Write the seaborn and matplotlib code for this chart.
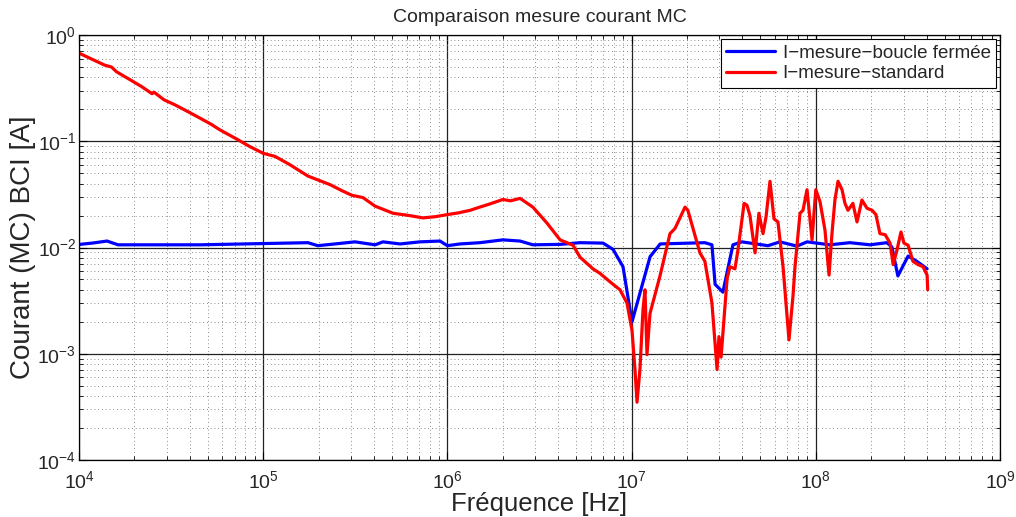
import matplotlib
matplotlib.use("Agg")
import matplotlib.pyplot as plt
import matplotlib.ticker as mticker
import seaborn as sns
import pandas as pd

# ---------------- data ----------------
freq_boucle = [1.01e4, 1.18e4, 1.42e4, 1.63e4, 4.54e4, 1.75e5, 1.98e5, 3.15e5,
               4.05e5, 4.47e5, 5.53e5, 7.1e5, 9.12e5, 1.0e6, 1.17e6, 1.50e6,
               2.0e6, 2.48e6, 2.91e6, 4.09e6, 5.25e6, 7.0e6, 7.93e6, 8.98e6,
               1.005e7, 1.26e7, 1.43e7, 2.5e7, 2.73e7, 2.84e7, 3.13e7, 3.55e7,
               3.97e7, 5.5e7, 6.39e7, 7.9e7, 8.96e7, 1.19e8, 1.53e8, 1.97e8,
               2.43e8, 2.59e8, 2.79e8, 3.17e8, 3.54e8, 4.02e8]
courant_boucle = [0.0107, 0.0110, 0.0115, 0.0106, 0.0106, 0.0111, 0.0104, 0.0113,
                  0.0106, 0.0113, 0.0108, 0.0113, 0.0115, 0.0104, 0.0108, 0.0111,
                  0.0118, 0.0115, 0.0106, 0.0107, 0.0111, 0.0110, 0.0096, 0.0066,
                  0.0020, 0.0082, 0.0108, 0.0111, 0.0106, 0.0045, 0.0038, 0.0106,
                  0.0113, 0.0104, 0.0113, 0.0103, 0.0113, 0.0106, 0.0111, 0.0106,
                  0.0111, 0.0101, 0.0054, 0.0083, 0.0074, 0.0063]

freq_standard = [1.01e4, 1.18e4, 1.38e4, 1.5e4, 1.6e4, 1.89e4, 2.2e4, 2.49e4, 2.55e4,
                 2.9e4, 3.32e4, 3.9e4, 4.54e4, 5.2e4, 5.82e4, 7.03e4, 8.47e4, 1.0e5,
                 1.16e5, 1.40e5, 1.75e5, 2.31e5, 2.7e5, 3.03e5, 3.48e5, 4.05e5,
                 5.07e5, 6.2e5, 7.37e5, 8.6e5, 1.0e6, 1.15e6,
                 1.33e6, 1.50e6, 1.70e6, 2.0e6, 2.2e6, 2.48e6, 2.91e6, 3.47e6, 4.09e6, 4.81e6,
                 5.25e6, 6.17e6, 6.74e6, 7.93e6, 8.65e6, 9.44e6, 1.005e7, 1.043e7,
                 1.07e7, 1.11e7, 1.153e7, 1.182e7, 1.212e7, 1.259e7, 1.426e7, 1.616e7,
                 1.72e7, 1.95e7, 2.02e7, 2.35e7, 2.50e7, 2.73e7, 2.91e7, 2.98e7,
                 3.06e7, 3.30e7, 3.42e7, 3.64e7, 3.78e7, 4.08e7, 4.23e7, 4.39e7,
                 4.68e7, 4.91e7, 5.17e7, 5.37e7, 5.64e7, 5.93e7, 6.23e7, 6.64e7,
                 7.15e7, 7.52e7, 7.71e7, 8.21e7, 8.52e7, 8.96e7, 9.54e7, 1.0e8,
                 1.054e8, 1.122e8, 1.18e8, 1.224e8, 1.27e8, 1.32e8, 1.388e8, 1.44e8,
                 1.495e8, 1.59e8, 1.674e8, 1.78e8, 1.897e8, 2.02e8, 2.12e8, 2.23e8,
                 2.38e8, 2.53e8, 2.63e8, 2.76e8, 2.90e8, 3.01e8, 3.17e8, 3.37e8,
                 3.59e8, 3.82e8, 4.02e8, 4.05e8]
courant_standard = [0.67, 0.59, 0.52, 0.50, 0.45, 0.38, 0.325, 0.28, 0.29,
                    0.245, 0.22, 0.19, 0.165, 0.145, 0.128, 0.107, 0.089, 0.077,
                    0.072, 0.060, 0.047, 0.039, 0.034, 0.031, 0.0295, 0.0245,
                    0.021, 0.0200, 0.019, 0.0195, 0.0204, 0.0212,
                    0.0224, 0.0240, 0.0257, 0.0283, 0.0275, 0.029, 0.024, 0.017, 0.0118, 0.0105,
                    0.0081, 0.0063, 0.0057, 0.0045, 0.0040, 0.0030, 0.00166, 0.00071,
                    0.00035, 0.00071, 0.0026, 0.0040, 0.00098, 0.0024, 0.0054, 0.0135,
                    0.0151, 0.024, 0.0224, 0.0089, 0.0074, 0.0030, 0.00071, 0.00145,
                    0.00093, 0.0051, 0.0066, 0.0063, 0.0095, 0.026, 0.025, 0.020,
                    0.0089, 0.021, 0.0135, 0.0195, 0.042, 0.0186, 0.0174, 0.0066,
                    0.00135, 0.0035, 0.0066, 0.021, 0.0224, 0.035, 0.0118, 0.035,
                    0.027, 0.0145, 0.0055, 0.0135, 0.028, 0.042, 0.035, 0.026,
                    0.0224, 0.026, 0.0174, 0.028, 0.0234, 0.0224, 0.0204, 0.0135,
                    0.0132, 0.0110, 0.0069, 0.0095, 0.0140, 0.0110, 0.0105, 0.0074,
                    0.0069, 0.0066, 0.0055, 0.0040]

labels = ["I\u2212mesure\u2212boucle fermée", "I\u2212mesure\u2212standard"]
title = "Comparaison mesure courant MC"
xlabel = "Fréquence [Hz]"
ylabel = "Courant (MC) BCI [A]"

# ---------------- style ----------------
sns.set_style("white")
plt.rcParams['font.family'] = ['Liberation Sans', 'DejaVu Sans']
plt.rcParams['mathtext.fontset'] = 'custom'
plt.rcParams['mathtext.rm'] = 'Liberation Sans'
plt.rcParams['mathtext.it'] = 'Liberation Sans'
plt.rcParams['mathtext.default'] = 'regular'

fig = plt.figure(figsize=(10.16, 5.17), dpi=100)
ax = fig.add_axes([79/1016, 1 - 460/517, (1000 - 79)/1016, (460 - 35)/517])

df_b = pd.DataFrame({"f": freq_boucle, "i": courant_boucle})
df_s = pd.DataFrame({"f": freq_standard, "i": courant_standard})

sns.lineplot(data=df_b, x="f", y="i", ax=ax, color=(0, 0, 1), linewidth=2.3,
             estimator=None, sort=False, label=labels[0])
sns.lineplot(data=df_s, x="f", y="i", ax=ax, color=(1, 0, 0), linewidth=2.3,
             estimator=None, sort=False, label=labels[1])

ax.set_xscale("log")
ax.set_yscale("log")
ax.set_xlim(1e4, 1e9)
ax.set_ylim(1e-4, 1e0)

ax.xaxis.set_major_locator(mticker.LogLocator(base=10, numticks=10))
ax.yaxis.set_major_locator(mticker.LogLocator(base=10, numticks=10))
ax.xaxis.set_minor_locator(mticker.LogLocator(base=10, subs=range(2, 10), numticks=20))
ax.yaxis.set_minor_locator(mticker.LogLocator(base=10, subs=range(2, 10), numticks=20))
ax.xaxis.set_minor_formatter(mticker.NullFormatter())
ax.yaxis.set_minor_formatter(mticker.NullFormatter())

ax.grid(True, which="major", color="#222222", linestyle="-", linewidth=0.9)
ax.grid(True, which="minor", color="#666666", linestyle=(0, (1, 3.5)), linewidth=0.6)
ax.set_axisbelow(True)

ax.tick_params(which="both", direction="in", top=True, right=True,
               bottom=True, left=True, color="black")
ax.tick_params(which="major", length=6, width=0.8, labelsize=14)
ax.tick_params(axis="y", which="major", pad=2)
ax.tick_params(axis="x", which="major", pad=7)
ax.tick_params(which="minor", length=3, width=0.6)

for s in ax.spines.values():
    s.set_color("black")
    s.set_linewidth(0.9)
    s.set_visible(True)

ax.set_title(title, fontsize=14, pad=9)
ax.set_xlabel(xlabel, fontsize=18.5, labelpad=0)
ax.set_ylabel(ylabel, fontsize=20)
ax.yaxis.set_label_coords(-0.047, 0.5)

leg = ax.legend(loc="upper right", fontsize=13.5, frameon=True, fancybox=False,
                edgecolor="black", framealpha=1, borderpad=0.3, labelspacing=0.2,
                handlelength=2.6, handletextpad=0.4, borderaxespad=0.2)
leg.get_frame().set_linewidth(0.8)

fig.savefig("out.png", dpi=100)
